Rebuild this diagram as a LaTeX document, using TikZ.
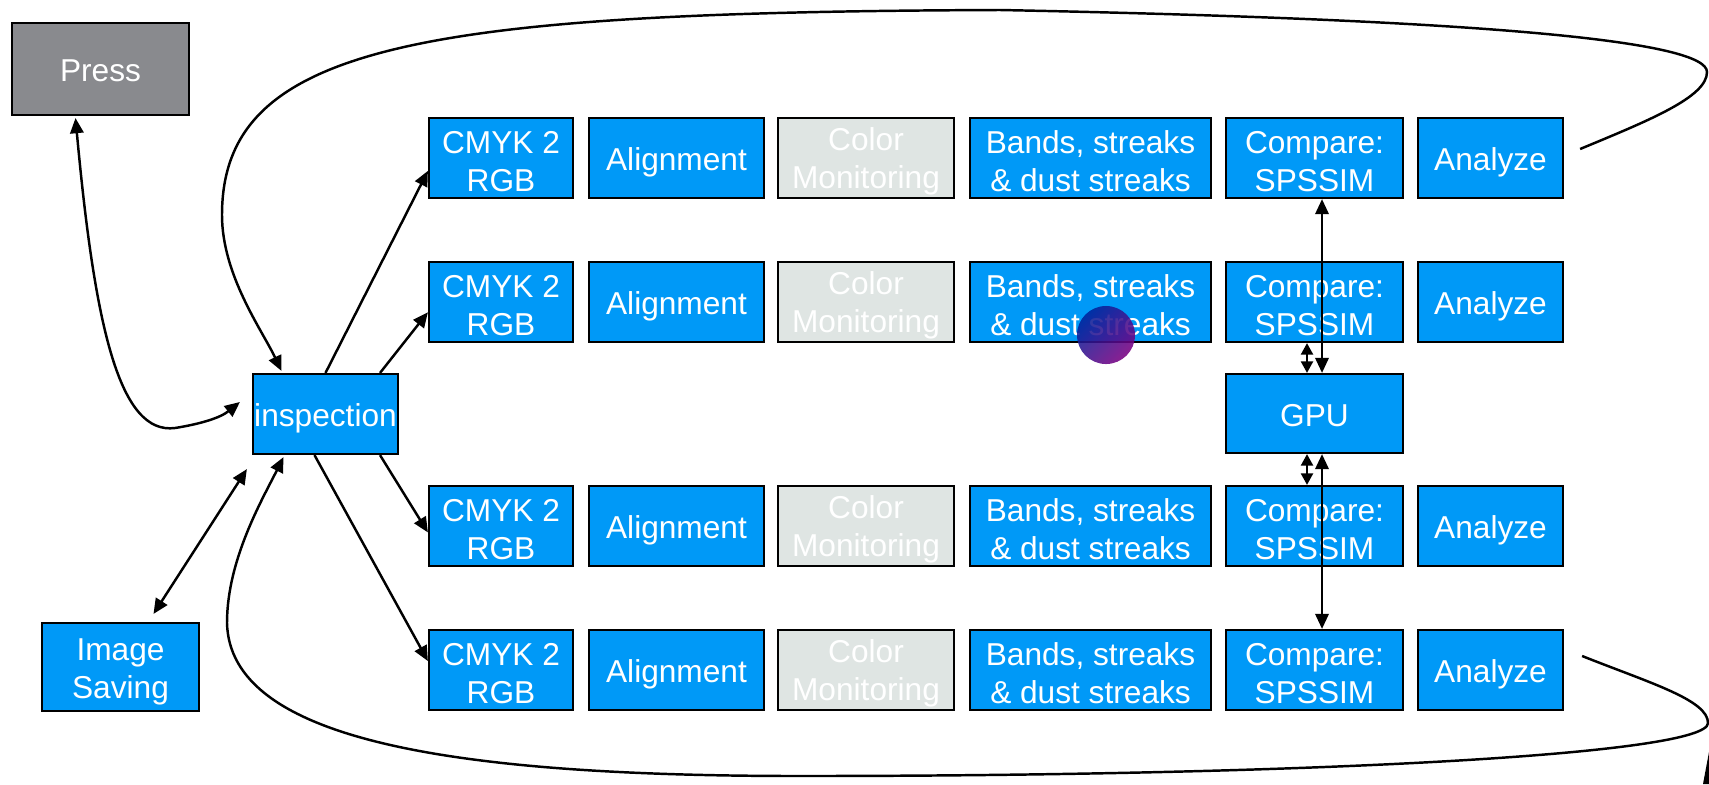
\documentclass[tikz,border=0pt]{standalone}
\usepackage{fontspec}
\setmainfont{Liberation Sans}
\usepackage{xcolor}
\usepackage{tikz}
\usetikzlibrary{arrows.meta,calc}

\definecolor{boxblue}{HTML}{0099F7}
\definecolor{pressgray}{HTML}{898A8E}
\definecolor{monigray}{HTML}{DFE5E3}
\definecolor{dotblue}{HTML}{00239B}
\definecolor{dotpurple}{HTML}{7A0082}

\tikzset{
blk/.style={draw=black, line width=0.6pt, fill=boxblue, text=white, align=center,
  inner sep=0pt, minimum height=0.8cm, font=\fontsize{9}{10.7}\selectfont},
tall/.style={execute at begin node={\rule{0pt}{#1}}},
tall/.default=8.7pt,
arr/.style={-{Triangle[length=4.3pt,width=3.8pt]}, line width=0.7pt},
darr/.style={{Triangle[length=4.3pt,width=3.8pt]}-{Triangle[length=4.3pt,width=3.8pt]}, line width=0.7pt},
sarr/.style={{Triangle[length=3.3pt,width=3.4pt]}-{Triangle[length=3.3pt,width=3.4pt]}, line width=0.7pt}
}

\begin{document}
\begin{tikzpicture}[x=0.01cm,y=-0.01cm]
\useasboundingbox (0,0) rectangle (1709,784);

\node[blk, tall=7.4pt, fill=pressgray, minimum width=1.77cm, minimum height=0.92cm] (press) at (100.5,69) {Press};
\node[blk, tall, minimum width=1.45cm] (insp) at (325.5,414) {inspection};
\node[blk, tall=19.8pt, minimum width=1.57cm, minimum height=0.88cm] (save) at (120.5,667) {Image\\Saving};
\node[blk, tall=7.6pt, minimum width=1.77cm, minimum height=0.79cm] (gpu) at (1314.5,413.5) {GPU};

\foreach \r/\y in {1/158,2/302,3/526,4/670}{
\node[blk, tall=19.2pt, minimum width=1.44cm] (c\r) at (501,\y) {CMYK 2\\RGB};
\node[blk, tall, minimum width=1.75cm] (a\r) at (676.5,\y) {Alignment};
\node[blk, tall=19.2pt, fill=monigray, minimum width=1.76cm] (m\r) at (866,\y) {Color\\Monitoring};
\node[blk, tall=19.2pt, minimum width=2.41cm] (b\r) at (1090.5,\y) {Bands, streaks\\\& dust streaks};
\node[blk, tall=19.2pt, minimum width=1.77cm] (s\r) at (1314.5,\y) {Compare:\\SPSSIM};
\node[blk, tall, minimum width=1.45cm] (z\r) at (1490.5,\y) {Analyze};
}

% inspection to the four rows
\draw[arr] (insp.north) -- (c1.190);
\draw[arr] (insp.37) -- (c2.188);
\draw[arr] (insp.-37) -- (c3.185);
\draw[arr] (insp.255) -- (c4.173);

\draw[darr] ($(press.south)+(-25,2)$) .. controls (95,330) and (120,435) .. (175,428)
  .. controls (200,424) and (220,418) .. ($(insp.west)+(-12,-12)$);
\draw[darr] ($(save.north)+(33,-8)$) -- ($(insp.south west)+(-5,14)$);

% loops back from Analyze
\draw[arr] ($(z1.east)+(16,-9)$) .. controls (1650,120) and (1707,97) .. (1707,72)
  .. controls (1707,42) and (1500,20) .. (1000,10)
  .. controls (420,12) and (222,45) .. (222,215)
  .. controls (222,275) and (262,330) .. ($(insp.north)+(-44,-2)$);
\draw[arr] ($(z4.east)+(18,-14)$) .. controls (1650,683) and (1708,700) .. (1708,723)
  .. controls (1708,755) and (1300,776) .. (800,776)
  .. controls (450,776) and (230,740) .. (227,623)
  .. controls (227,560) and (262,500) .. ($(insp.south)+(-42,2)$);

% GPU links
\draw[darr] ($(s1.south)+(7.5,0)$) -- ($(gpu.north)+(7.5,0)$);
\draw[darr] ($(gpu.south)+(7.5,0)$) -- ($(s4.north)+(7.5,0)$);
\draw[sarr] ($(s2.south)+(-7.5,0)$) -- ($(gpu.north)+(-7.5,0)$);
\draw[sarr] ($(gpu.south)+(-7.5,0)$) -- ($(s3.north)+(-7.5,0)$);

\shade[top color=dotblue, bottom color=dotpurple, shading angle=45, opacity=0.88] (1106,335) circle (0.29cm);
\fill (1703,784) -- (1709,752) -- (1709,784) -- cycle;

\end{tikzpicture}
\end{document}
